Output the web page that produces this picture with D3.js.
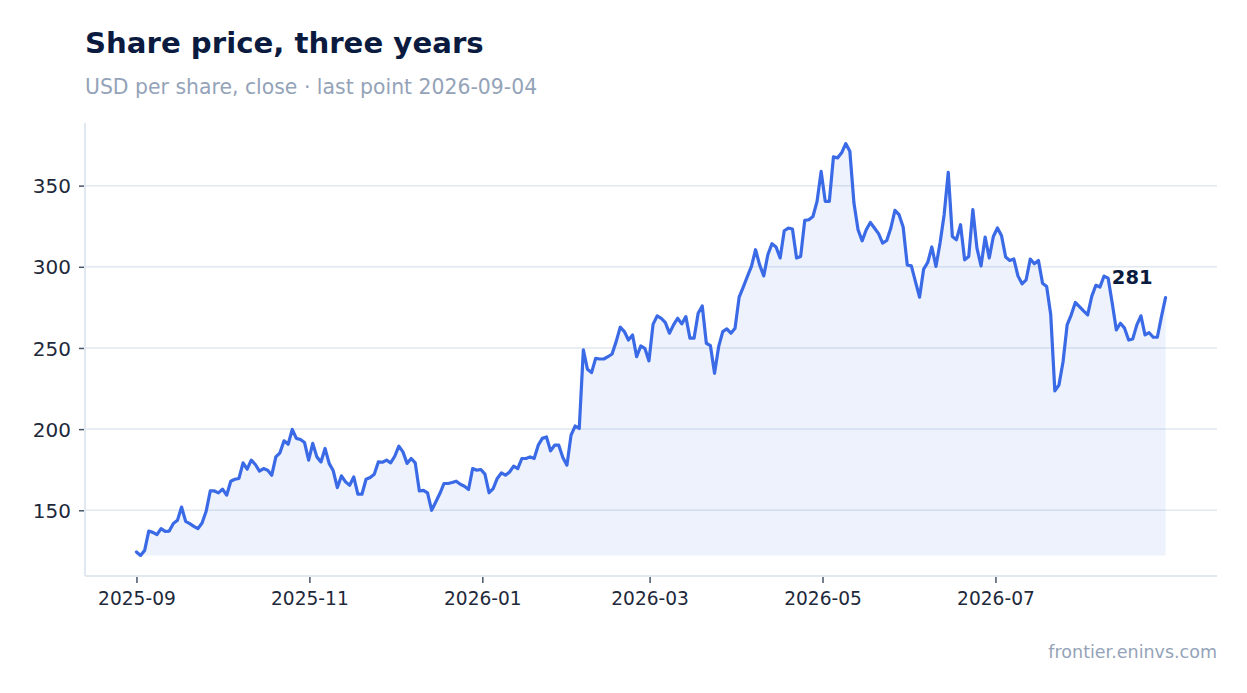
<!DOCTYPE html>
<html>
<head>
<meta charset="utf-8">
<script src="https://cdn.jsdelivr.net/npm/d3@7"></script>
<style>
  body { margin: 0; background: #fff; }
  svg { display: block; font-family: "DejaVu Sans", sans-serif; }
</style>
</head>
<body>
<div id="chart"></div>
<script>
// data
var startDate = "2025-09-01";
var endDate = "2026-08-30";

var closes = [
  124.3, 122.2, 125.3, 137.2, 136.4, 135.0, 138.7, 137.0, 137.2, 141.8,
  143.8, 152.0, 143.2, 141.8, 140.1, 138.7, 142.2, 149.4, 161.9, 161.9,
  160.7, 163.0, 159.3, 167.9, 169.1, 169.6, 179.2, 175.3, 180.9, 178.2,
  174.1, 175.7, 174.7, 171.6, 182.9, 185.4, 192.8, 190.7, 199.8, 194.3,
  193.6, 191.7, 180.9, 191.2, 182.9, 179.8, 188.1, 178.9, 174.3, 164.0,
  171.2, 167.5, 165.4, 170.6, 159.9, 159.9, 169.1, 170.2, 172.2, 179.8,
  179.6, 180.9, 179.2, 183.3, 189.5, 186.0, 178.9, 181.9, 179.2, 161.9,
  162.3, 160.7, 150.0, 155.1, 160.3, 166.5, 166.5, 167.1, 167.9, 166.0,
  164.8, 162.8, 175.7, 174.7, 175.1, 172.3, 160.8, 163.4, 169.6, 173.0,
  171.6, 173.6, 177.2, 175.7, 181.9, 181.9, 182.9, 181.9, 190.1, 194.3,
  195.2, 186.6, 190.1, 190.1, 182.5, 177.8, 196.3, 201.9, 200.4, 248.8,
  236.9, 234.8, 243.6, 243.2, 243.2, 244.6, 246.3, 253.9, 262.8, 260.1,
  254.9, 258.0, 244.6, 251.2, 249.8, 242.0, 264.5, 269.8, 268.3, 265.6,
  259.1, 264.2, 268.3, 264.8, 269.3, 256.0, 256.0, 271.4, 275.9, 252.9,
  251.4, 234.4, 250.8, 260.1, 261.7, 259.1, 262.2, 281.3, 287.5, 294.0,
  300.2, 310.5, 301.2, 294.4, 307.4, 314.2, 312.2, 305.4, 322.2, 323.8,
  323.3, 305.4, 306.4, 328.6, 329.0, 331.0, 340.3, 358.8, 340.3, 340.3,
  367.7, 367.1, 370.2, 375.9, 371.2, 339.3, 322.8, 316.0, 322.8, 327.3,
  323.9, 320.4, 314.6, 316.2, 323.9, 334.8, 332.1, 324.5, 301.2, 300.6,
  290.9, 281.3, 298.6, 302.7, 312.2, 300.2, 314.6, 332.1, 358.2, 318.7,
  316.7, 325.9, 304.3, 306.4, 335.2, 311.5, 300.6, 318.3, 305.4, 318.7,
  323.9, 319.1, 306.0, 303.9, 304.8, 294.4, 289.5, 292.0, 304.8, 301.9,
  303.9, 289.9, 287.8, 270.4, 223.6, 227.2, 241.5, 264.2, 270.4, 278.0,
  275.5, 272.8, 270.4, 281.8, 288.6, 287.5, 294.3, 293.0, 277.6, 261.1,
  265.2, 262.2, 254.9, 255.6, 264.2, 269.8, 258.0, 259.4, 256.6, 256.6,
  269.3, 281.0
];

var xTicks = ["2025-09-01", "2025-11-01", "2026-01-01", "2026-03-01", "2026-05-01", "2026-07-01"];
var yTicks = [150, 200, 250, 300, 350];

var titleText = "Share price, three years";
var subtitleText = "USD per share, close \u00b7 last point 2026-09-04";
var sourceText = "frontier.eninvs.com";

var svgWidth = 1247;
var svgHeight = 693;

var margin = {
    top: 123,
    right: 30,
    bottom: 117,
    left: 85
};

var width = svgWidth - margin.left - margin.right;
var height = svgHeight - margin.top - margin.bottom;

var parseDate = d3.utcParse("%Y-%m-%d");
var t0 = parseDate(startDate).getTime();
var t1 = parseDate(endDate).getTime();

// points are evenly spaced between the first and last date
var priceData = closes.map(function(v, i) {
    return { date: new Date(t0 + i * (t1 - t0) / (closes.length - 1)), close: v };
});

var svg = d3.select("#chart")
    .append("svg")
    .attr("width", svgWidth)
    .attr("height", svgHeight);

var chartGroup = svg.append("g")
    .attr("transform", `translate(${margin.left}, ${margin.top})`);

// scales, padded 5% on both sides
var xSpan = t1 - t0;
var xScale = d3.scaleUtc()
    .domain([new Date(t0 - xSpan * 0.05), new Date(t1 + xSpan * 0.05)])
    .range([0, width]);

var yMin = d3.min(closes);
var yMax = d3.max(closes);
var yPad = (yMax - yMin) * 0.05;
var yScale = d3.scaleLinear()
    .domain([yMin - yPad, yMax + yPad])
    .range([height, 0]);

// gridlines
chartGroup.append("g")
    .selectAll("line")
    .data(yTicks)
    .enter()
    .append("line")
    .attr("x1", 0)
    .attr("x2", width)
    .attr("y1", d => yScale(d))
    .attr("y2", d => yScale(d))
    .attr("stroke", "#e2e8f0")
    .attr("stroke-width", 1.5);

// area + line
var area = d3.area()
    .x(d => xScale(d.date))
    .y0(yScale(yMin))
    .y1(d => yScale(d.close));

var line = d3.line()
    .x(d => xScale(d.date))
    .y(d => yScale(d.close));

chartGroup.append("path")
    .datum(priceData)
    .attr("d", area)
    .attr("fill", "#3a6ae6")
    .attr("fill-opacity", 0.09);

chartGroup.append("path")
    .datum(priceData)
    .attr("d", line)
    .attr("fill", "none")
    .attr("stroke", "#3a6ae6")
    .attr("stroke-width", 3.2)
    .attr("stroke-linejoin", "round")
    .attr("stroke-linecap", "round");

// axes
var bottomAxis = d3.axisBottom(xScale)
    .tickValues(xTicks.map(parseDate))
    .tickFormat(d3.utcFormat("%Y-%m"))
    .tickSize(7)
    .tickPadding(9);

var leftAxis = d3.axisLeft(yScale)
    .tickValues(yTicks)
    .tickSize(6)
    .tickPadding(8);

var xAxisG = chartGroup.append("g")
    .attr("transform", `translate(0, ${height})`)
    .call(bottomAxis);

var yAxisG = chartGroup.append("g")
    .call(leftAxis);

[xAxisG, yAxisG].forEach(function(g) {
    g.select(".domain").remove();
    g.selectAll(".tick line").attr("stroke", "#475569").attr("stroke-width", 1.5);
    g.selectAll(".tick text")
        .attr("fill", "#1e293b")
        .style("font-family", "DejaVu Sans, sans-serif");
});
xAxisG.selectAll(".tick text").style("font-size", "18.6px");
yAxisG.selectAll(".tick text").style("font-size", "20px").attr("dy", "0.36em");

// frame lines (left and bottom)
chartGroup.append("line")
    .attr("x1", 0).attr("x2", 0)
    .attr("y1", 0).attr("y2", height)
    .attr("stroke", "#e2e8f0")
    .attr("stroke-width", 2);

chartGroup.append("line")
    .attr("x1", 0).attr("x2", width)
    .attr("y1", height).attr("y2", height)
    .attr("stroke", "#e2e8f0")
    .attr("stroke-width", 2);

// last value label
var last = priceData[priceData.length - 1];
chartGroup.append("text")
    .attr("x", xScale(last.date) - 13)
    .attr("y", yScale(last.close) - 14)
    .attr("text-anchor", "end")
    .attr("font-size", "19.5px")
    .attr("font-weight", "bold")
    .attr("fill", "#0b1b3f")
    .text(d3.format(".0f")(last.close));

// titles
svg.append("text")
    .attr("x", 85)
    .attr("y", 53)
    .attr("font-size", "29.2px")
    .attr("font-weight", "bold")
    .attr("fill", "#0b1b3f")
    .text(titleText);

svg.append("text")
    .attr("x", 85)
    .attr("y", 94)
    .attr("font-size", "20.4px")
    .attr("fill", "#94a3b8")
    .text(subtitleText);

svg.append("text")
    .attr("x", 1217)
    .attr("y", 658)
    .attr("text-anchor", "end")
    .attr("font-size", "17.5px")
    .attr("fill", "#94a3b8")
    .text(sourceText);
</script>
</body>
</html>
